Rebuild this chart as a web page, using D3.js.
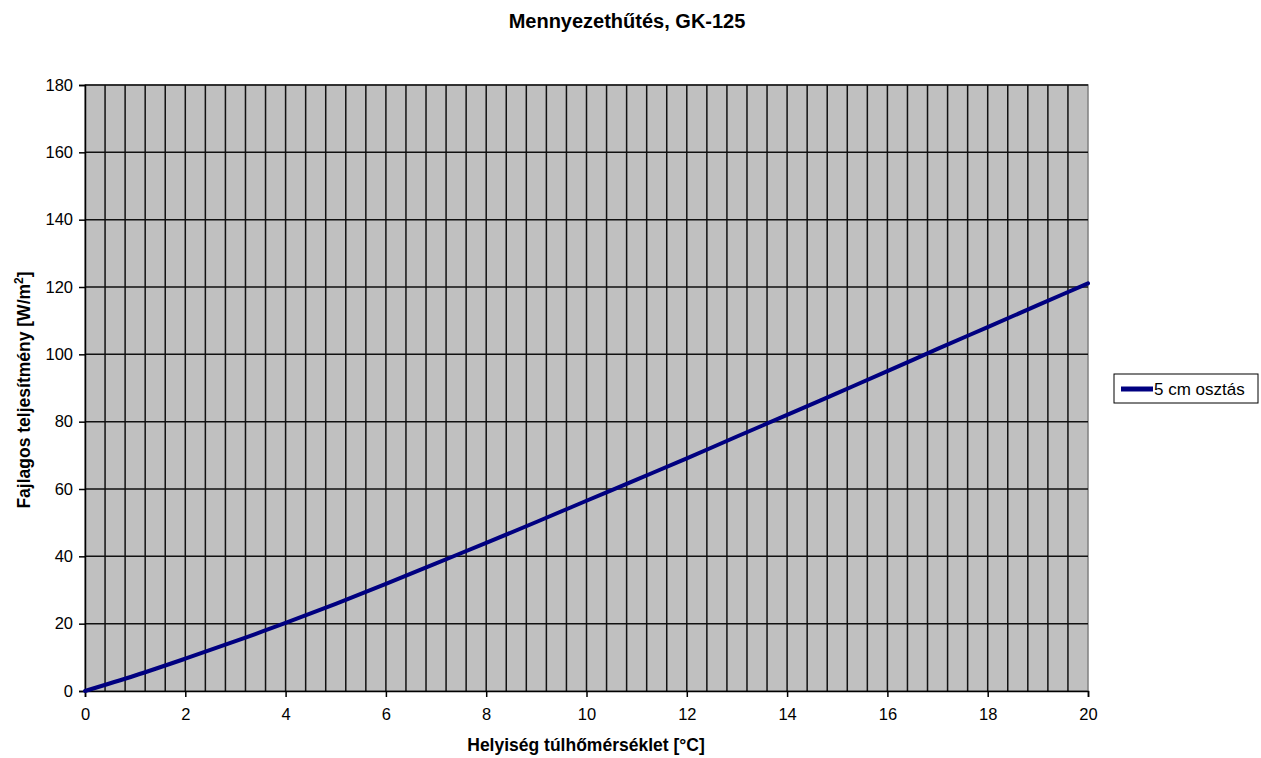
<!DOCTYPE html>
<html>
<head>
<meta charset="utf-8">
<script src="https://cdn.jsdelivr.net/npm/d3@7"></script>
<style>
  body { margin: 0; background: #fff; }
  svg { display: block; font-family: "Liberation Sans", Arial, sans-serif; }
</style>
</head>
<body>
<svg id="chart" width="1261" height="758"></svg>
<script>
// data
var xValues = [0, 1, 2, 3, 4, 5, 6, 7, 8, 9, 10, 11, 12, 13, 14, 15, 16, 17, 18, 19, 20];
var yValues = [0, 4.6, 9.6, 14.8, 20.2, 25.9, 31.8, 37.9, 44.0, 50.2, 56.5, 62.8, 69.1, 75.6, 82.0, 88.5, 95.0, 101.6, 108.1, 114.6, 121.1];
var seriesName = "5 cm osztás";
var xTicks = [0, 2, 4, 6, 8, 10, 12, 14, 16, 18, 20];
var yTicks = [0, 20, 40, 60, 80, 100, 120, 140, 160, 180];

var margin = {left: 85, top: 85, right: 1088, bottom: 691};
var svg = d3.select("#chart");

var x = d3.scaleLinear().domain([0, 20]).range([margin.left, margin.right]);
var y = d3.scaleLinear().domain([0, 180]).range([margin.bottom, margin.top]);

// plot background
svg.append("rect")
    .attr("x", margin.left).attr("y", margin.top)
    .attr("width", margin.right - margin.left)
    .attr("height", margin.bottom - margin.top)
    .attr("fill", "#c0c0c0")
    .attr("stroke", "#808080").attr("stroke-width", 1.5);

// vertical grid every 0.4
var vGrid = d3.range(1, 50).map(function(i) { return i * 0.4; });
svg.append("g").selectAll("line").data(vGrid).enter().append("line")
    .attr("x1", function(d) { return x(d); }).attr("x2", function(d) { return x(d); })
    .attr("y1", margin.top).attr("y2", margin.bottom)
    .attr("stroke", "#111").attr("stroke-width", 1.5);

// horizontal grid
svg.append("g").selectAll("line").data(yTicks.slice(1)).enter().append("line")
    .attr("x1", margin.left).attr("x2", margin.right)
    .attr("y1", function(d) { return y(d); }).attr("y2", function(d) { return y(d); })
    .attr("stroke", "#111").attr("stroke-width", 1.5);

// axes
var yAxis = svg.append("g")
    .attr("transform", "translate(" + margin.left + ",0)")
    .call(d3.axisLeft(y).tickValues(yTicks).tickSize(6).tickPadding(6));
var xAxis = svg.append("g")
    .attr("transform", "translate(0," + margin.bottom + ")")
    .call(d3.axisBottom(x).tickValues(xTicks).tickSize(6).tickPadding(11));
[xAxis, yAxis].forEach(function(a) {
    a.select(".domain").attr("stroke", "#000").attr("stroke-width", 1.5);
    a.selectAll(".tick line").attr("stroke", "#000").attr("stroke-width", 1.5);
    a.selectAll("text").attr("font-size", 16.5).attr("fill", "#000")
        .attr("font-family", "Liberation Sans, Arial, sans-serif");
});

// series line
var line = d3.line()
    .x(function(d, i) { return x(xValues[i]); })
    .y(function(d) { return y(d); })
    .curve(d3.curveMonotoneX);
svg.append("path")
    .datum(yValues)
    .attr("d", line)
    .attr("fill", "none")
    .attr("stroke", "#000080")
    .attr("stroke-width", 4)
    .attr("stroke-linecap", "round");

// title
svg.append("text")
    .attr("x", 627).attr("y", 28)
    .attr("text-anchor", "middle")
    .attr("font-size", 20).attr("font-weight", "bold")
    .text("Mennyezethűtés, GK-125");

// axis titles
svg.append("text")
    .attr("x", 586).attr("y", 751)
    .attr("text-anchor", "middle")
    .attr("font-size", 17.5).attr("font-weight", "bold")
    .text("Helyiség túlhőmérséklet [°C]");

var yt = svg.append("text")
    .attr("transform", "translate(30,390) rotate(-90)")
    .attr("text-anchor", "middle")
    .attr("font-size", 17.5).attr("font-weight", "bold");
yt.append("tspan").text("Fajlagos teljesítmény [W/m");
yt.append("tspan").attr("dy", -7).attr("font-size", 12).text("2");
yt.append("tspan").attr("dy", 7).text("]");

// legend
var legend = svg.append("g").attr("transform", "translate(1114,374)");
legend.append("rect")
    .attr("width", 144).attr("height", 29)
    .attr("fill", "#fff").attr("stroke", "#000").attr("stroke-width", 1);
legend.append("line")
    .attr("x1", 7).attr("x2", 39).attr("y1", 15).attr("y2", 15)
    .attr("stroke", "#000080").attr("stroke-width", 5);
legend.append("text")
    .attr("x", 40).attr("y", 21)
    .attr("font-size", 17)
    .text(seriesName);
</script>
</body>
</html>
